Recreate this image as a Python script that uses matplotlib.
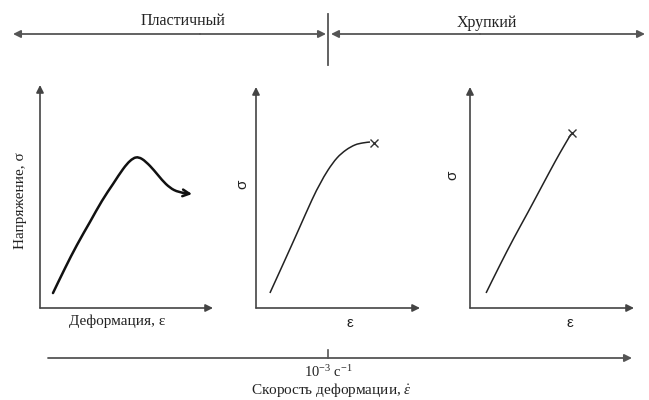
#schematic: stress-strain curves vs strain rate (ductile / brittle)
import matplotlib
matplotlib.use("Agg")
import matplotlib.pyplot as plt
from matplotlib.path import Path
from matplotlib.patches import PathPatch
import numpy as np

plt.rcParams['font.family'] = ['Liberation Serif', 'DejaVu Serif']
plt.rcParams['mathtext.fontset'] = 'custom'
plt.rcParams['mathtext.rm'] = 'Liberation Serif'
plt.rcParams['mathtext.it'] = 'Liberation Serif:italic'

# region labels (top) and strain-rate axis text (bottom)
regions = ['Пластичный', 'Хрупкий']
rate_tick = '10$^{-3}$ с$^{-1}$'
rate_label = r'Скорость деформации, $\dot{\varepsilon}$'
ylabels = ['Напряжение, σ', 'σ', 'σ']
xlabels = ['Деформация, ε', 'ε', 'ε']

# curves, strain / stress in panel fractions
strain1 = [0.075, 0.145, 0.214, 0.289, 0.358, 0.422, 0.480, 0.520, 0.555, 0.590,
           0.636, 0.682, 0.728, 0.775, 0.827, 0.879]
stress1 = [0.067, 0.179, 0.283, 0.386, 0.480, 0.556, 0.623, 0.659, 0.675, 0.668,
           0.637, 0.596, 0.556, 0.529, 0.516, 0.511]
strain2 = [0.085, 0.171, 0.256, 0.341, 0.390, 0.439, 0.494, 0.549, 0.604, 0.652, 0.695]
stress2 = [0.068, 0.208, 0.348, 0.489, 0.561, 0.624, 0.679, 0.715, 0.738, 0.747, 0.751]
strain3 = [0.098, 0.183, 0.268, 0.354, 0.439, 0.518, 0.573, 0.616]
stress3 = [0.068, 0.195, 0.317, 0.434, 0.552, 0.661, 0.733, 0.787]
fracture = [(0.72, 0.747), (0.622, 0.792)]


def smooth_path(xs, ys):
    # bezier path through the read points (catmull-rom control points)
    p = np.column_stack([xs, ys])
    verts = [p[0]]
    codes = [Path.MOVETO]
    for k in range(len(p) - 1):
        p0 = p[k-1] if k > 0 else p[k]
        p3 = p[k+2] if k + 2 < len(p) else p[k+1]
        c1 = p[k] + (p[k+1] - p0) / 6
        c2 = p[k+1] - (p3 - p[k]) / 6
        verts += [c1, c2, p[k+1]]
        codes += [Path.CURVE4] * 3
    return Path(verts, codes)


W, H = 649, 400
fig = plt.figure(figsize=(W/100, H/100), dpi=100)
fig.patch.set_facecolor('white')

# overlay for the big arrows
ov = fig.add_axes([0, 0, 1, 1])
ov.set_xlim(0, W)
ov.set_ylim(H, 0)
ov.axis('off')
gray = '#555555'
arr = dict(arrowstyle='-|>', color=gray, lw=1.3, mutation_scale=11, shrinkA=0, shrinkB=0)
ov.annotate('', xy=(13, 34), xytext=(200, 34), arrowprops=arr)
ov.annotate('', xy=(326, 34), xytext=(200, 34), arrowprops=arr)
ov.annotate('', xy=(645, 34), xytext=(480, 34), arrowprops=arr)
ov.annotate('', xy=(331, 34), xytext=(480, 34), arrowprops=arr)
ov.plot([328, 328], [14, 65], color=gray, lw=1.3)
ov.text(183, 21, regions[0], ha='center', va='center', fontsize=11.5, color='#222')
ov.text(487, 23, regions[1], ha='center', va='center', fontsize=11.5, color='#222')

ov.annotate('', xy=(632, 358), xytext=(48, 358), arrowprops=arr)
ov.plot([328, 328], [350, 358], color=gray, lw=1.2)
ov.text(328, 372, rate_tick, ha='center', va='center', fontsize=10.5, color='#222')
ov.text(331, 390, rate_label, ha='center', va='center', fontsize=11, color='#222')

# three stress-strain panels: origin x, x tip, y tip (origin y = 308)
panels = [(40, 213, 85), (256, 420, 87), (470, 634, 87)]
curves = [(strain1, stress1), (strain2, stress2), (strain3, stress3)]
ylab_pos = [(-0.115, 0.48), (-0.085, 0.56), (-0.11, 0.6)]
xlab_pos = [(0.445, -0.06), (0.57, -0.07), (0.61, -0.07)]
for i, (x0, xt, yt) in enumerate(panels):
    ax = fig.add_axes([x0/W, (H-308)/H, (xt-x0)/W, (308-yt)/H])
    ax.set_xlim(0, 1)
    ax.set_ylim(0, 1)
    ax.axis('off')
    axarr = dict(arrowstyle='-|>', color='#444', lw=1.2, mutation_scale=11, shrinkA=0, shrinkB=0)
    ax.annotate('', xy=(1, 0), xytext=(0, 0), arrowprops=axarr, annotation_clip=False)
    ax.annotate('', xy=(0, 1), xytext=(0, 0), arrowprops=axarr, annotation_clip=False)
    sx, sy = curves[i]
    if i == 0:
        ax.add_patch(PathPatch(smooth_path(sx[:-1], sy[:-1]), fill=False,
                               edgecolor='#111', lw=1.8, capstyle='round'))
        ax.annotate('', xy=(sx[-1], sy[-1]), xytext=(sx[-2], sy[-2]),
                    arrowprops=dict(arrowstyle='->', color='#111', lw=1.8,
                                    mutation_scale=12, shrinkA=0, shrinkB=0))
        ax.text(*ylab_pos[i], ylabels[i], rotation=90, ha='center', va='center',
                fontsize=11, transform=ax.transAxes, color='#222')
        ax.text(*xlab_pos[i], xlabels[i], ha='center', va='center',
                fontsize=11, transform=ax.transAxes, color='#222')
    else:
        ax.add_patch(PathPatch(smooth_path(sx, sy), fill=False, edgecolor='#222', lw=1.1))
        fx, fy = fracture[i-1]
        ax.plot([fx], [fy], marker='x', color='#333', ms=6, mew=1.0, clip_on=False)
        ax.text(*ylab_pos[i], ylabels[i], rotation=90, ha='center', va='center',
                fontsize=11, family='Liberation Sans', transform=ax.transAxes, color='#222')
        ax.text(*xlab_pos[i], xlabels[i], ha='center', va='center',
                fontsize=11, family='Liberation Sans', transform=ax.transAxes, color='#222')

fig.savefig('out.png', dpi=100, facecolor='white')
